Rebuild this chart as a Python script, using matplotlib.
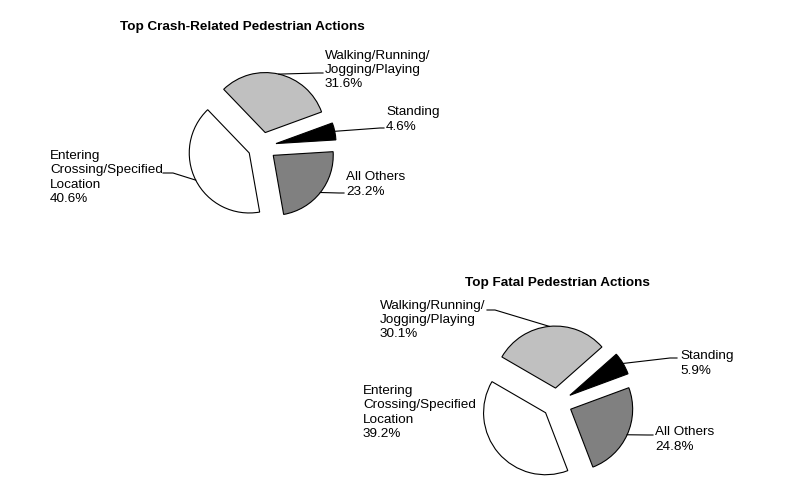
import matplotlib
matplotlib.use('Agg')
import matplotlib.pyplot as plt
import numpy as np

# data
crash_labels = ['All Others', 'Standing', 'Walking/Running/\nJogging/Playing',
                'Entering\nCrossing/Specified\nLocation']
crash_pct = [23.2, 4.6, 31.6, 40.6]
fatal_labels = ['All Others', 'Standing', 'Walking/Running/\nJogging/Playing',
                'Entering\nCrossing/Specified\nLocation']
fatal_pct = [24.8, 5.9, 30.1, 39.2]
colors = ['#808080', '#000000', '#c0c0c0', '#ffffff']

W, H = 787, 504
FS = 9.7
plt.rcParams['font.family'] = ['Liberation Sans', 'DejaVu Sans']

fig = plt.figure(figsize=(W / 100, H / 100), dpi=100)
ax = fig.add_axes([0, 0, 1, 1])


def py(y):
    # pixel row -> data y
    return H - y


def draw_pie(vals, labels, center, radius, start, gap, title, title_xy, label_pos):
    # explode is in data units (pixels here)
    wedges, _ = ax.pie(vals, colors=colors, startangle=start, counterclock=True,
                       center=(center[0], py(center[1])), radius=radius,
                       explode=[gap] * len(vals),
                       wedgeprops=dict(edgecolor='black', linewidth=0.8))
    ax.text(title_xy[0], py(title_xy[1]), title, ha='center', va='center',
            fontsize=FS, fontweight='bold')
    for w, lab, v, pos in zip(wedges, labels, vals, label_pos):
        tx, ty, lead = pos
        ax.text(tx, py(ty), '%s\n%.1f%%' % (lab, v), ha='left', va='center',
                fontsize=FS, linespacing=1.23)
        if lead is None:
            continue
        mid = np.deg2rad((w.theta1 + w.theta2) / 2)
        cx, cy = w.center
        sx = cx + w.r * np.cos(mid)
        sy = cy + w.r * np.sin(mid)
        xs = [sx] + [p[0] for p in lead]
        ys = [sy] + [py(p[1]) for p in lead]
        ax.plot(xs, ys, color='black', linewidth=0.8)


# top chart: crash-related
draw_pie(crash_pct, crash_labels, (262, 146.5), 60, -80, 14.3,
         'Top Crash-Related Pedestrian Actions', (242, 27),
         [(346, 184.5, [(339, 193), (344, 193)]),
          (386, 119.5, [(380, 128), (384, 128)]),
          (325, 70, [(318, 73), (323, 73)]),
          (50, 177.5, [(173, 173), (163, 173)])])

# bottom chart: fatal
draw_pie(fatal_pct, fatal_labels, (557, 403), 62, -69, 15,
         'Top Fatal Pedestrian Actions', (557, 283),
         [(655, 439.5, [(648, 435), (653, 435)]),
          (680, 363.5, [(670, 358), (677, 358)]),
          (380, 320, [(495, 310), (487, 310)]),
          (363, 412.5, None)])

ax.set_xlim(0, W)
ax.set_ylim(0, H)
ax.set_aspect('equal')
ax.axis('off')

fig.savefig('out.png', dpi=100, facecolor='white')
